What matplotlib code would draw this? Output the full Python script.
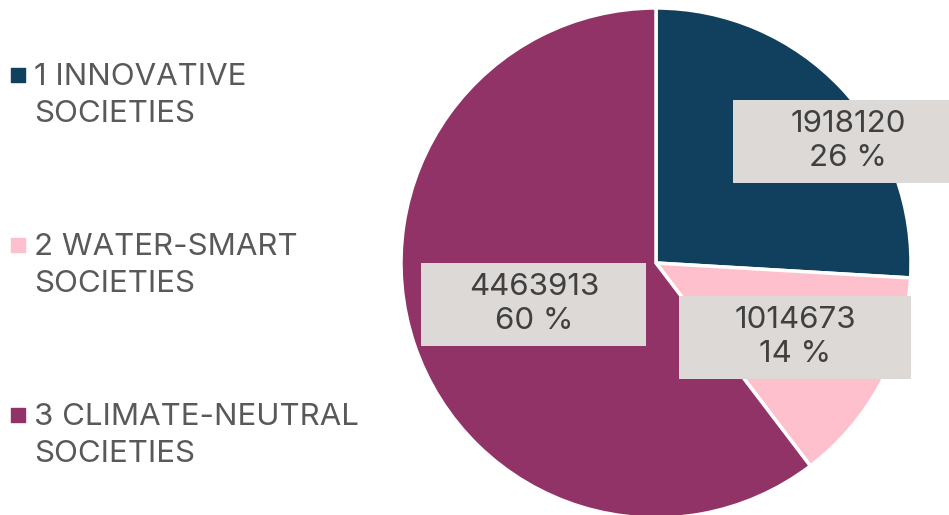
import matplotlib
matplotlib.use('Agg')
import matplotlib.pyplot as plt
from matplotlib.patches import Rectangle

plt.rcParams['font.family'] = ['Inter', 'DejaVu Sans']

# data
categories = ['1 INNOVATIVE\nSOCIETIES', '2 WATER-SMART\nSOCIETIES', '3 CLIMATE-NEUTRAL\nSOCIETIES']
values = [1918120, 1014673, 4463913]
colors = ['#11405F', '#FFC0CE', '#913366']

W, H = 949, 515
fig = plt.figure(figsize=(W / 100, H / 100), dpi=100)
ax = fig.add_axes([0, 0, 1, 1])

# pie in pixel coords
cx, cy, r = 656, H - 263, 255
wedges, _ = ax.pie(values, colors=colors, startangle=90, counterclock=False,
                   center=(cx, cy), radius=r, frame=True,
                   wedgeprops=dict(edgecolor='white', linewidth=2.5))
ax.set_xlim(0, W)
ax.set_ylim(0, H)
ax.set_aspect('equal')
ax.axis('off')

# data label boxes
total = sum(values)
label_pos = [(848, H - 141), (795, H - 337), (534, H - 304)]
box_w = [230, 232, 225]
box_h = 83
for v, (x, y), bw in zip(values, label_pos, box_w):
    ax.add_patch(Rectangle((x - bw / 2, y - box_h / 2), bw, box_h,
                           facecolor='#DDD9D6', edgecolor='none', zorder=3))
    ax.text(x, y, f"{v}\n{round(v / total * 100)} %", ha='center', va='center',
            fontsize=22.5, color='#404040', linespacing=1.3, zorder=4)

# legend
leg_y = [75, 245, 415]
for lab, col, y in zip(categories, colors, leg_y):
    ax.scatter([18], [H - y], marker='s', s=110, color=col, zorder=5)
    ax.text(34, H - y + 12, lab, ha='left', va='top', fontsize=22.5,
            color='#595959', linespacing=1.4)

fig.savefig('out.png', dpi=100)
